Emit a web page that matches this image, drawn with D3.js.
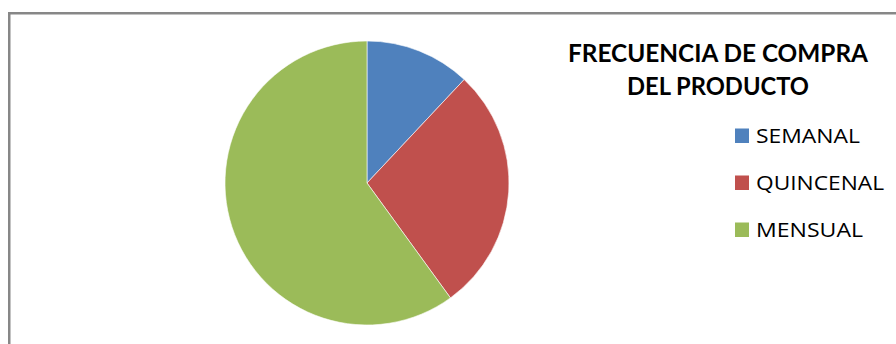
<!DOCTYPE html>
<html>
<head>
<meta charset="utf-8">
<script src="https://cdn.jsdelivr.net/npm/d3@7/dist/d3.min.js"></script>
<style>
    html, body { margin: 0; padding: 0; background: #fff; }
    svg { display: block; }
</style>
</head>
<body>
<div id="chart"></div>
<script>
// data (share of answers, %)
const categories = ['SEMANAL', 'QUINCENAL', 'MENSUAL'];
const values = [12, 28, 60];
const colours = ['#4F81BD', '#C0504D', '#9BBB59'];
const titleLines = ['FRECUENCIA DE COMPRA', 'DEL PRODUCTO'];

const svg_width = 896, svg_height = 344;

const svg = d3.select('#chart')
    .append('svg')
    .attr('width', svg_width)
    .attr('height', svg_height);

// chart area frame (runs off right and bottom edges)
svg.append('rect')
    .attr('x', 9.25).attr('y', 13.25)
    .attr('width', 900).attr('height', 400)
    .style('fill', 'none')
    .style('stroke', '#878787')
    .style('stroke-width', 2.5);

// pie
const cx = 367, cy = 183, radius = 142;

const pie = d3.pie().sort(null).value(d => d.v);
const arc = d3.arc().innerRadius(0).outerRadius(radius);

const table = categories.map((k, i) => ({k, v: values[i], c: colours[i]}));

svg.append('g')
    .attr('transform', `translate(${cx},${cy})`)
    .selectAll('path.slice')
    .data(pie(table))
    .join('path')
    .classed('slice', true)
    .attr('d', arc)
    .style('fill', d => d.data.c)
    .style('stroke', '#fff')
    .style('stroke-width', 0.6);

// title
const title_widths = [300, 182];
svg.selectAll('text.title')
    .data(titleLines)
    .join('text')
    .classed('title', true)
    .attr('x', 718)
    .attr('y', (d, i) => 62 + i * 33)
    .attr('text-anchor', 'middle')
    .attr('textLength', (d, i) => title_widths[i])
    .attr('lengthAdjust', 'spacingAndGlyphs')
    .style('font-family', 'Lato, "Open Sans", sans-serif')
    .style('font-weight', 'bold')
    .style('font-size', '25px')
    .style('fill', '#000')
    .text(d => d);

// legend
const legend_widths = [104, 128, 107];
const legend = svg.selectAll('g.legend')
    .data(table)
    .join('g')
    .classed('legend', true)
    .attr('transform', (d, i) => `translate(735,${143 + i * 47})`);

legend.append('rect')
    .attr('x', 0).attr('y', -14.5)
    .attr('width', 14).attr('height', 14.5)
    .style('fill', d => d.c);

legend.append('text')
    .attr('x', 21).attr('y', 0)
    .attr('textLength', (d, i) => legend_widths[i])
    .attr('lengthAdjust', 'spacingAndGlyphs')
    .style('font-family', '"Open Sans", sans-serif')
    .style('font-size', '20px')
    .style('fill', '#000')
    .text(d => d.k);
</script>
</body>
</html>
